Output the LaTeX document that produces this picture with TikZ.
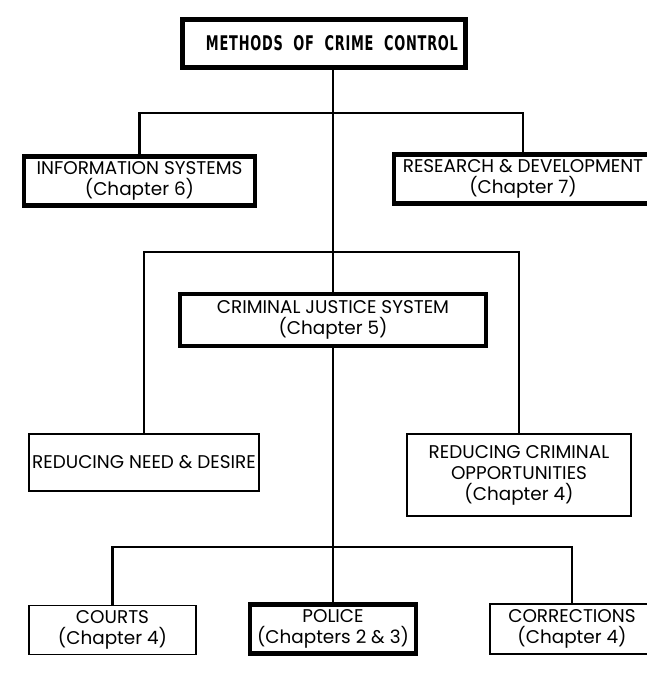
\documentclass[tikz,border=0pt]{standalone}
\usepackage{fontspec}
\usepackage{graphicx}
\setmainfont{Poppins}
\newfontfamily\titlefont[LetterSpace=6]{DejaVu Sans}

\begin{document}
\begin{tikzpicture}[x=1pt,y=-1pt,
  box/.style={draw=black, fill=white, line width=1.8pt, inner sep=0pt,
              align=center, font=\fontsize{18.4}{21}\selectfont},
  heavy/.style={box, line width=4.5pt},
  conn/.style={draw=black, line width=2.6pt}]
\fill[white] (0,0) rectangle (647,678);
\useasboundingbox (0,0) rectangle (647,678);

% top of the tree
\node[heavy, minimum width=283pt, minimum height=48pt] (title) at (324,43.5)
  {\hspace*{16pt}\resizebox{252pt}{15pt}{\titlefont\bfseries METHODS\ \ OF\ \ CRIME\ \ CONTROL}};

% supporting functions
\node[heavy, minimum width=231pt, minimum height=49pt] (info) at (139.5,181)
  {INFORMATION SYSTEMS\\(Chapter 6)};
\node[heavy, minimum width=258pt, minimum height=49pt] (rd) at (523,179)
  {RESEARCH \& DEVELOPMENT\\(Chapter 7)};

% main branches
\node[heavy, minimum width=306pt, minimum height=52pt] (cjs) at (333,320)
  {CRIMINAL JUSTICE SYSTEM\\(Chapter 5)};
\node[box, minimum width=230pt, minimum height=57pt] (rn) at (144,462.5)
  {REDUCING NEED \& DESIRE};
\node[box, minimum width=224pt, minimum height=82pt] (rco) at (519,475)
  {REDUCING CRIMINAL\\OPPORTUNITIES\\(Chapter 4)};

% components of the justice system
\node[box, minimum width=167pt, minimum height=49pt] (courts) at (112.5,630)
  {COURTS\\(Chapter 4)};
\node[heavy, minimum width=166pt, minimum height=49pt] (police) at (333,629)
  {POLICE\\(Chapters 2 \& 3)};
\node[box, minimum width=164pt, minimum height=50pt] (corr) at (572,629)
  {CORRECTIONS\\(Chapter 4)};

% connectors
\coordinate (j1) at (333,113);
\coordinate (j2) at (333,252);
\coordinate (j3) at (333,547);
\draw[conn] (title.south -| cjs.north) -- (cjs.north);
\draw[conn] (info.north) |- (j1) -| (rd.north);
\draw[conn] (rn.north) |- (j2) -| (rco.north);
\draw[conn] (cjs.south) -- (police.north);
\draw[conn] (courts.north) |- (j3) -| (corr.north);
\end{tikzpicture}
\end{document}
